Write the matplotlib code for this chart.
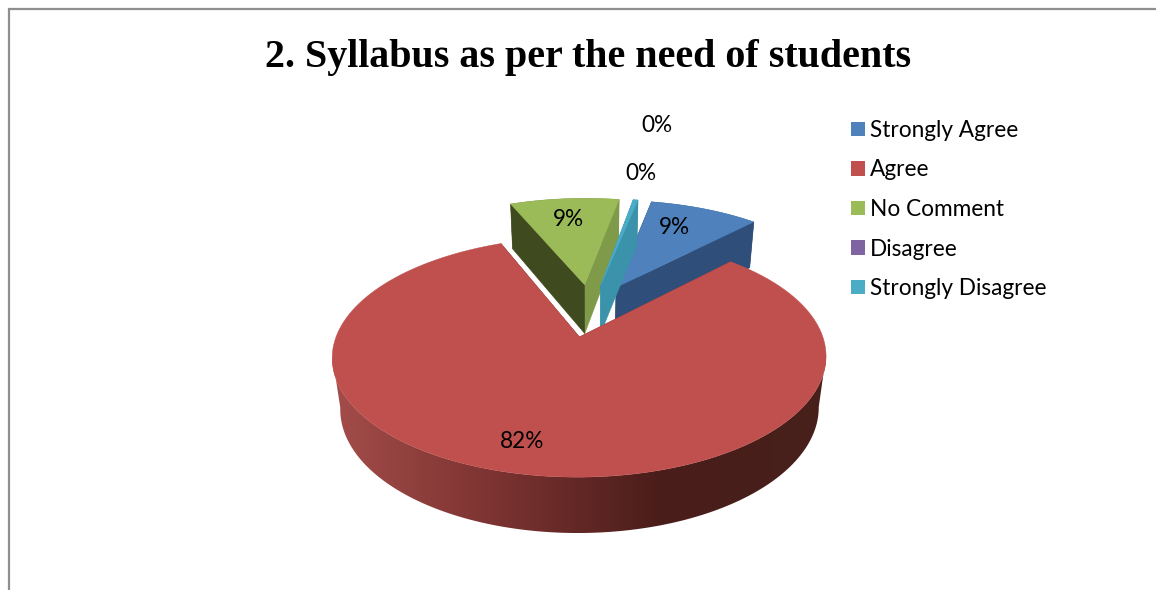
import matplotlib

matplotlib.use("Agg")
import matplotlib.pyplot as plt
import numpy as np
from matplotlib.colors import LinearSegmentedColormap, to_rgb
from matplotlib.patches import Patch, Polygon

title = "2. Syllabus as per the need of students"
categories = ["Strongly Agree", "Agree", "No Comment", "Disagree", "Strongly Disagree"]
shares = [9, 82, 9, 0, 0.4]
colors = ["#4f81bd", "#c0504d", "#9bbb59", "#8064a2", "#4bacc6"]
# shaded colours of the two cut faces: (clockwise end, counter-clockwise start)
face_colors = [
    ("#2f4e79", "#2f4e79"),
    ("#7a302e", "#7a302e"),
    ("#7f9a48", "#3f4a1e"),
    ("#4d3c62", "#4d3c62"),
    ("#3b93ab", "#3b93ab"),
]

# pie projection, everything below is in image pixels
ORIGIN_X, ORIGIN_Y = 590.5, 310
SCALE_X, SCALE_Y, DEPTH = 234, 107.8, 51.4
PERSP_Y, PERSP_Z = 0.161, 0.03
EXPLODE = 0.245
START = 78.6
red_side = LinearSegmentedColormap.from_list("side", ["#a54e4b", "#7c3331", "#4a1d1a", "#47201c"])


def project(x, y, z=0.0):
    w = 1 + PERSP_Y * y + PERSP_Z * z
    return ORIGIN_X + SCALE_X * x / w, ORIGIN_Y - (SCALE_Y * y - DEPTH * z) / w


def draw_slice(ax, t1, t2, color, faces, gradient=None):
    # t1 is the clockwise end, t2 the start, both in degrees
    mid = np.radians((t1 + t2) / 2)
    ax_x, ax_y = EXPLODE * np.cos(mid), EXPLODE * np.sin(mid)
    theta = np.radians(np.linspace(t1, t2, max(int(abs(t2 - t1)) * 2, 2)))
    rim_x, rim_y = ax_x + np.cos(theta), ax_y + np.sin(theta)

    # outer wall
    upper = [project(x, y) for x, y in zip(rim_x, rim_y)]
    lower = [project(x, y, 1) for x, y in zip(rim_x, rim_y)]
    if gradient is not None:
        # near part only, the full ring folds over itself and breaks the clip
        near = np.sin(theta) < -0.15
        up = [p for p, keep in zip(upper, near) if keep]
        low = [p for p, keep in zip(lower, near) if keep]
        wall = Polygon(up + low[::-1], closed=True, fc="none", ec="none")
        ax.add_patch(wall)
        image = ax.imshow(np.linspace(0, 1, 256)[None, :], cmap=gradient, aspect="auto",
                          extent=(325, 830, 545, 330), interpolation="bilinear")
        image.set_clip_path(wall)
        ax.set_xlim(0, 1156)
        ax.set_ylim(590, 0)
    else:
        ax.add_patch(Polygon(upper + lower[::-1], closed=True,
                             fc=tuple(c * 0.6 for c in to_rgb(color)), ec="none"))

    # cut faces
    for (ex, ey), shade in zip([(rim_x[0], rim_y[0]), (rim_x[-1], rim_y[-1])], faces):
        pts = [project(ax_x, ax_y), project(ex, ey), project(ex, ey, 1), project(ax_x, ax_y, 1)]
        ax.add_patch(Polygon(pts, closed=True, fc=shade, ec=shade, lw=0.4))

    # top
    top = [project(ax_x, ax_y)] + upper
    ax.add_patch(Polygon(top, closed=True, fc=color, ec=color, lw=0.3))


fig = plt.figure(figsize=(11.56, 5.90), dpi=100)
ax = fig.add_axes([0, 0, 1, 1])
ax.set_xlim(0, 1156)
ax.set_ylim(590, 0)
ax.axis("off")

# chart frame, only left and top are inside the crop
ax.plot([8.5, 8.5, 1156], [590, 9, 9], color="#8f8f8f", lw=1.6, solid_joinstyle="miter")

ax.text(588, 58, title, family="Liberation Serif", weight="bold", fontsize=28.85,
        ha="center", va="center", color="black")

angles = 360 * np.array(shares) / sum(shares)
ends = START - np.cumsum(angles)
starts = ends + angles

# far slices first, the big one on top of everything
for idx in [2, 0, 4, 1]:
    if angles[idx] > 0:
        draw_slice(ax, ends[idx], starts[idx], colors[idx], face_colors[idx],
                   gradient=red_side if idx == 1 else None)

label_font = dict(family="Lato", fontsize=16.3, ha="center", va="center", color="black")
label_xy = [(674, 227), (522, 441), (568, 220), (641, 174), (657, 126)]
for share, (lx, ly) in zip(shares, label_xy):
    ax.text(lx, ly, f"{share:.0f}%", **label_font)

handles = [Patch(fc=c, ec="none", label=n) for c, n in zip(colors, categories)]
ax.legend(handles=handles, loc="upper left", bbox_to_anchor=(831 / 1156, 1 - 99.5 / 590),
          frameon=False, prop={"family": "Lato", "size": 16.3}, handlelength=0.62,
          handleheight=0.62, handletextpad=0.2, labelspacing=0.82, borderpad=0.4)

fig.savefig("out.png", dpi=100)
plt.close(fig)
